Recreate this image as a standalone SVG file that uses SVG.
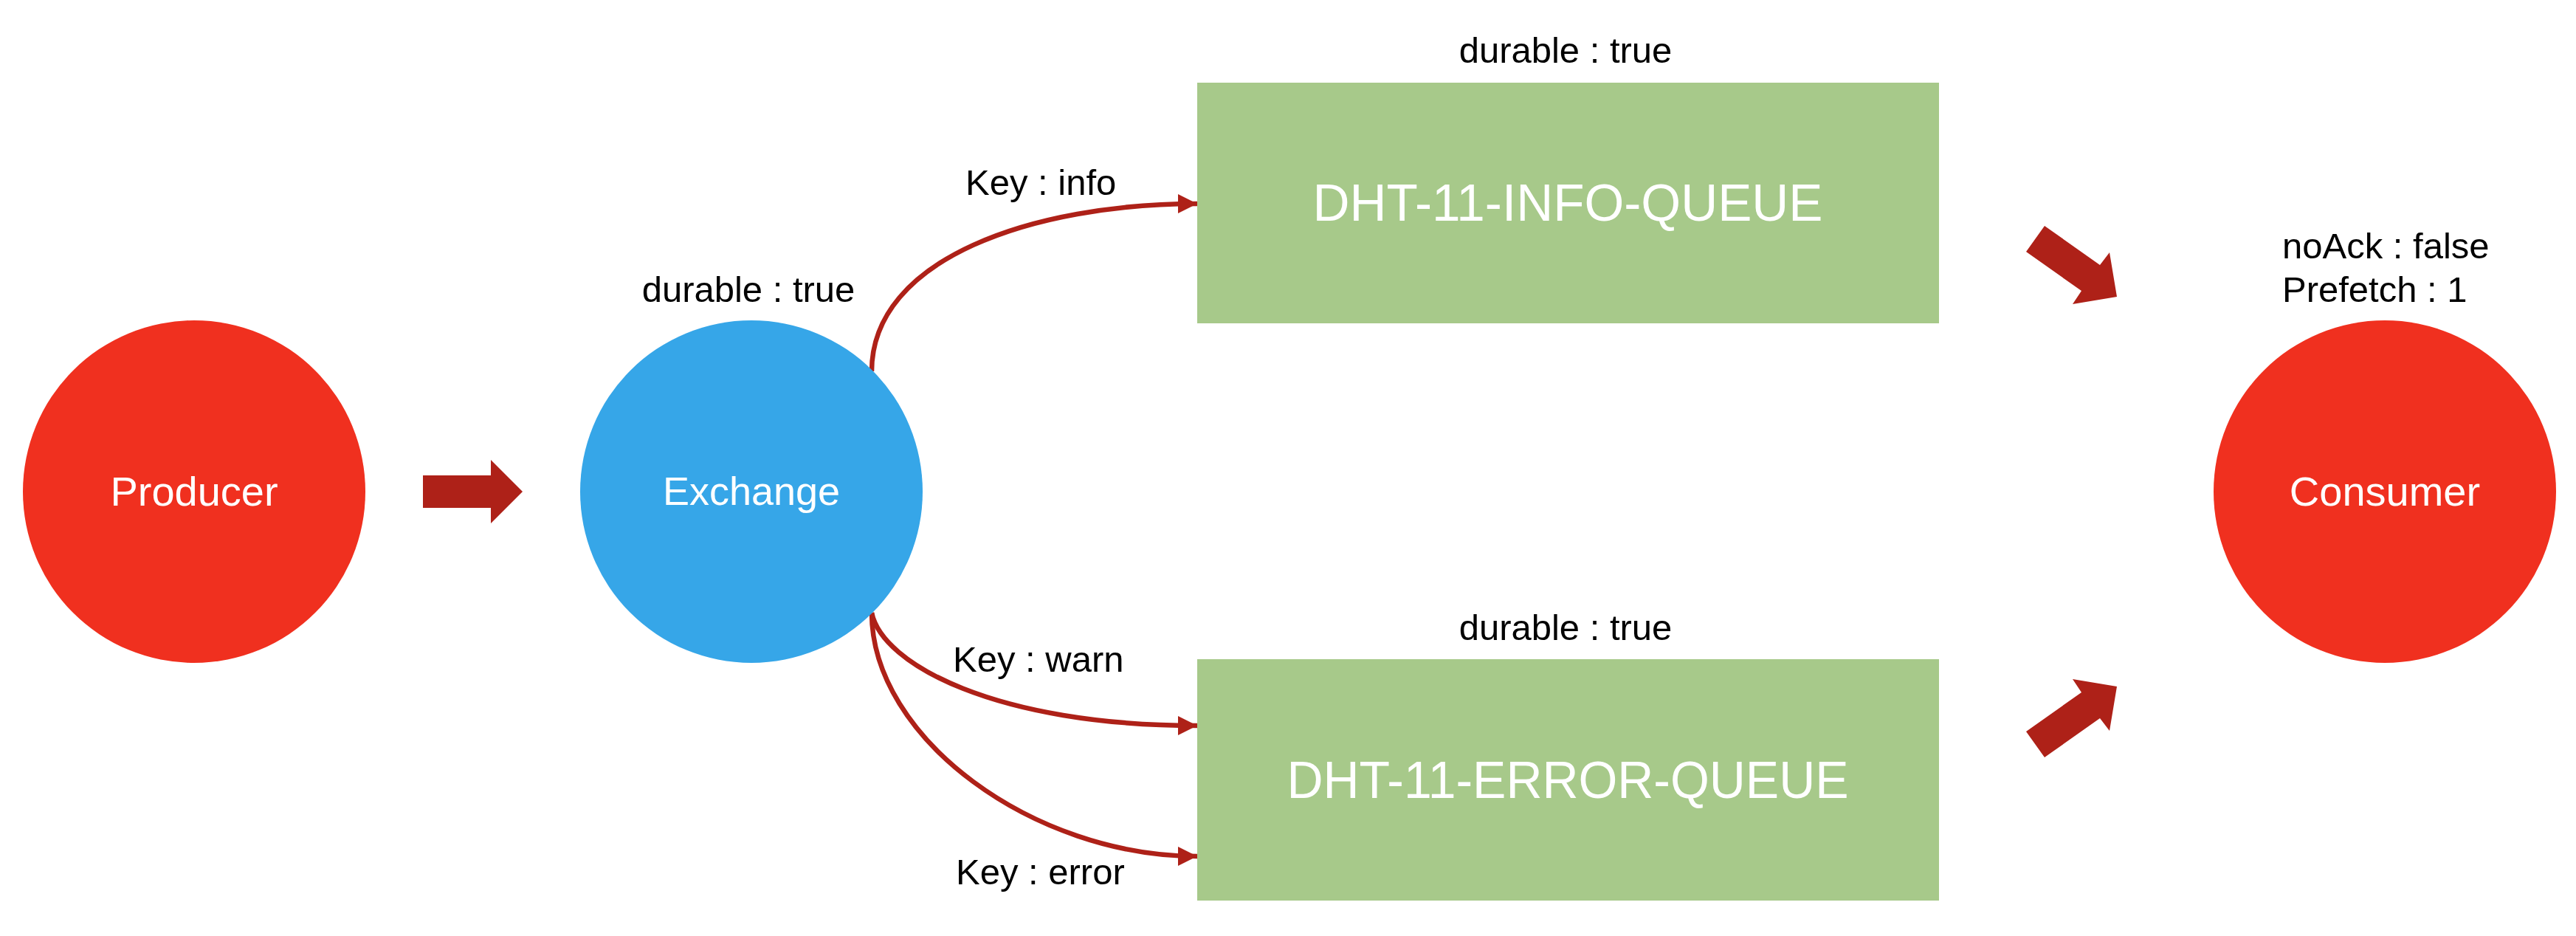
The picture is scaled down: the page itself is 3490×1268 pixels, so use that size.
<svg xmlns="http://www.w3.org/2000/svg" width="3490" height="1268" viewBox="0 0 3490 1268">
<style>
.bg{fill:#ffffff}
.red{fill:#F0301F}
.blue{fill:#36A6E8}
.green{fill:#A7C98A}
.blk{fill:#AE2118}
.wt{font-family:"Liberation Sans",Arial,sans-serif;fill:#ffffff;text-anchor:middle}
.lbl{font-family:"Liberation Sans",Arial,sans-serif;fill:#000000;font-size:49px}
.mid{text-anchor:middle}
.conn{fill:none;stroke:#AE2118;stroke-width:6.5;marker-end:url(#ah)}
</style>
<defs>
<marker id="ah" viewBox="0 0 26 26" markerWidth="26" markerHeight="26" refX="26" refY="13" orient="auto" markerUnits="userSpaceOnUse">
<path d="M0,0 L26,13 L0,26 z" fill="#AE2118"/>
</marker>
</defs>
<rect class="bg" x="0" y="0" width="3490" height="1268"/>

<g id="connectors">
<polygon class="blk" points="573,644 665,644 665,623 708,666 665,709 665,688 573,688"/>
<path class="conn" d="M1181,503 C1181,350 1400,276 1622,276"/>
<path class="conn" d="M1181,830 C1195,900 1350,983 1622,983"/>
<path class="conn" d="M1181,830 C1181,1000 1400,1160 1622,1160"/>
<polygon class="blk" points="2770,306 2845,359 2858,342 2868,402 2808,412 2820,394 2745,341"/>
<polygon class="blk" points="2770,1026 2845,973 2858,990 2868,930 2808,920 2820,938 2745,991"/>
<text class="lbl" x="1308" y="264">Key : info</text>
<text class="lbl" x="1291" y="910">Key : warn</text>
<text class="lbl" x="1295" y="1198">Key : error</text>
</g>

<g id="producer">
<circle class="red" cx="263" cy="666" r="232"/>
<text class="wt" x="263" y="685" font-size="56">Producer</text>
</g>

<g id="exchange">
<circle class="blue" cx="1018" cy="666" r="232"/>
<text class="wt" x="1018" y="684" font-size="54">Exchange</text>
<text class="lbl mid" x="1014" y="409">durable : true</text>
</g>

<g id="info-queue">
<rect class="green" x="1622" y="112" width="1005" height="326"/>
<text class="wt" x="2124" y="299" font-size="70" textLength="691" lengthAdjust="spacingAndGlyphs">DHT-11-INFO-QUEUE</text>
<text class="lbl mid" x="2121" y="85">durable : true</text>
</g>

<g id="error-queue">
<rect class="green" x="1622" y="893" width="1005" height="327"/>
<text class="wt" x="2124" y="1081" font-size="70" textLength="761" lengthAdjust="spacingAndGlyphs">DHT-11-ERROR-QUEUE</text>
<text class="lbl mid" x="2121" y="867">durable : true</text>
</g>

<g id="consumer">
<circle class="red" cx="3231" cy="666" r="232"/>
<text class="wt" x="3231" y="685" font-size="56">Consumer</text>
<text class="lbl" x="3092" y="350" font-size="48">noAck : false</text>
<text class="lbl" x="3092" y="409" font-size="48">Prefetch : 1</text>
</g>
</svg>
